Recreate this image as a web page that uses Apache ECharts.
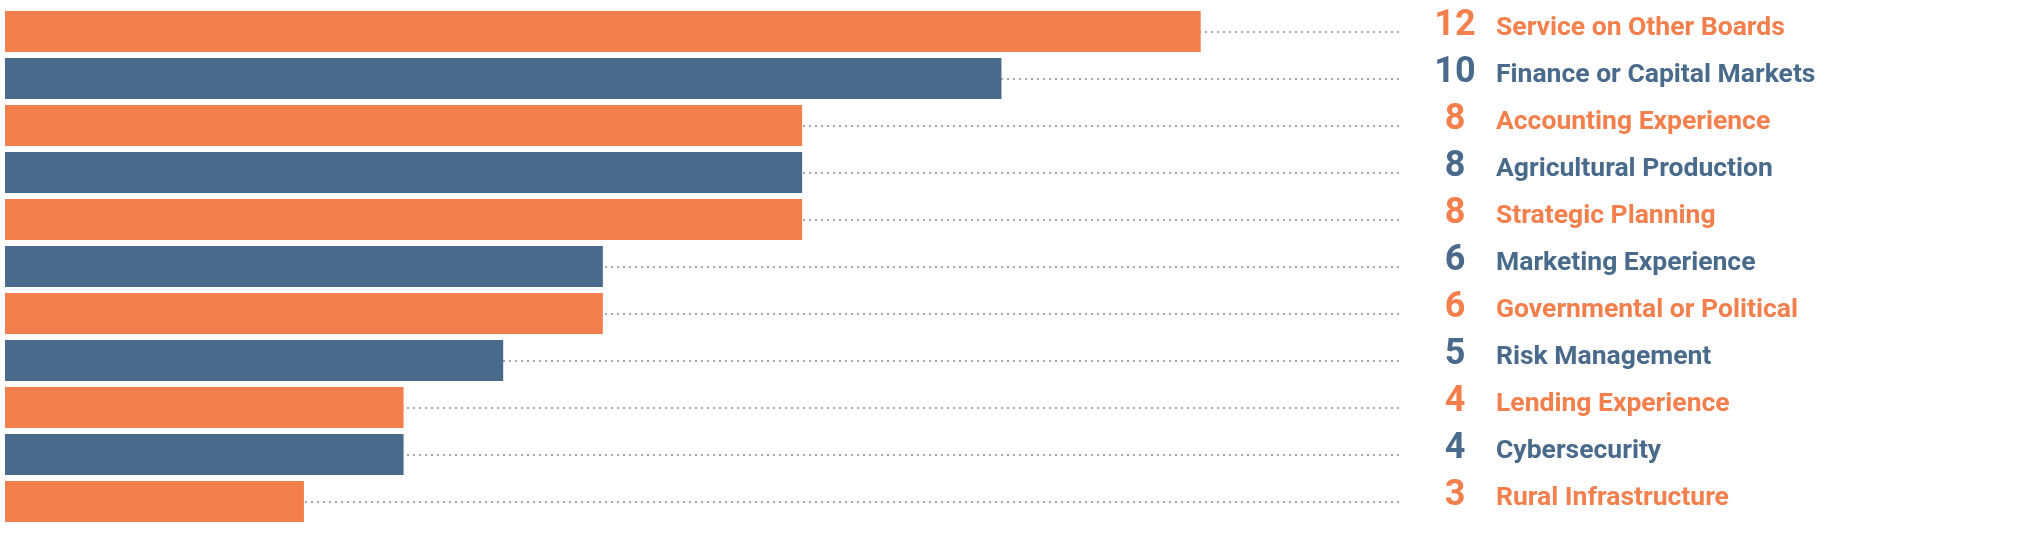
<!DOCTYPE html>
<html><head><meta charset="utf-8">
<script src="https://cdn.jsdelivr.net/npm/echarts@6/dist/echarts.min.js"></script>
<style>html,body{margin:0;padding:0;background:#fff}#c{width:2027px;height:534px}</style>
</head><body><div id="c"></div>
<script>
const categories = ["Service on Other Boards","Finance or Capital Markets","Accounting Experience","Agricultural Production","Strategic Planning","Marketing Experience","Governmental or Political","Risk Management","Lending Experience","Cybersecurity","Rural Infrastructure"];
const values = [12,10,8,8,8,6,6,5,4,4,3];
const axisMax = 14;

const ORANGE = '#F37F4C', BLUE = '#4A6A8B';
const colorOf = i => (i % 2 === 0 ? ORANGE : BLUE);
const FONT = 'Roboto';

const chart = echarts.init(document.getElementById('c'), null, {renderer:'canvas'});
const num = c => ({width:70, align:'right', color:c, fontFamily:FONT, fontWeight:'bold', fontSize:36});
const txt = c => ({color:c, fontFamily:FONT, fontWeight:'bold', fontSize:26.5, padding:[6,0,0,6]});
chart.setOption({
  animation: false,
  grid: {left: 5, right: 627, top: 8, bottom: 9, containLabel: false},
  xAxis: {type:'value', min:0, max:axisMax, show:false},
  yAxis: {
    type:'category', data: categories, inverse: true, position:'right',
    axisLine:{show:false}, axisTick:{show:false}, splitLine:{show:false},
    axisLabel:{
      margin: 20,
      formatter: (v, i) => '{n' + (i%2) + '|' + values[i] + '}{t' + (i%2) + '|' + v + '}',
      rich: { n0:num(ORANGE), n1:num(BLUE), t0:txt(ORANGE), t1:txt(BLUE) },
      verticalAlign:'middle', padding:[0,0,12,0]
    }
  },
  series: [{
    type:'bar', data: values.map((v,i)=>({value:v, itemStyle:{color:colorOf(i)}})),
    barWidth: 41, z: 3,
    markLine: {
      silent:true, symbol:['none','none'], z:1,
      label:{show:false},
      lineStyle:{color:'#A9A9A9', width:2, type:[2,4]},
      data: categories.map(c => ({yAxis: c}))
    }
  }]
});
</script></body></html>
